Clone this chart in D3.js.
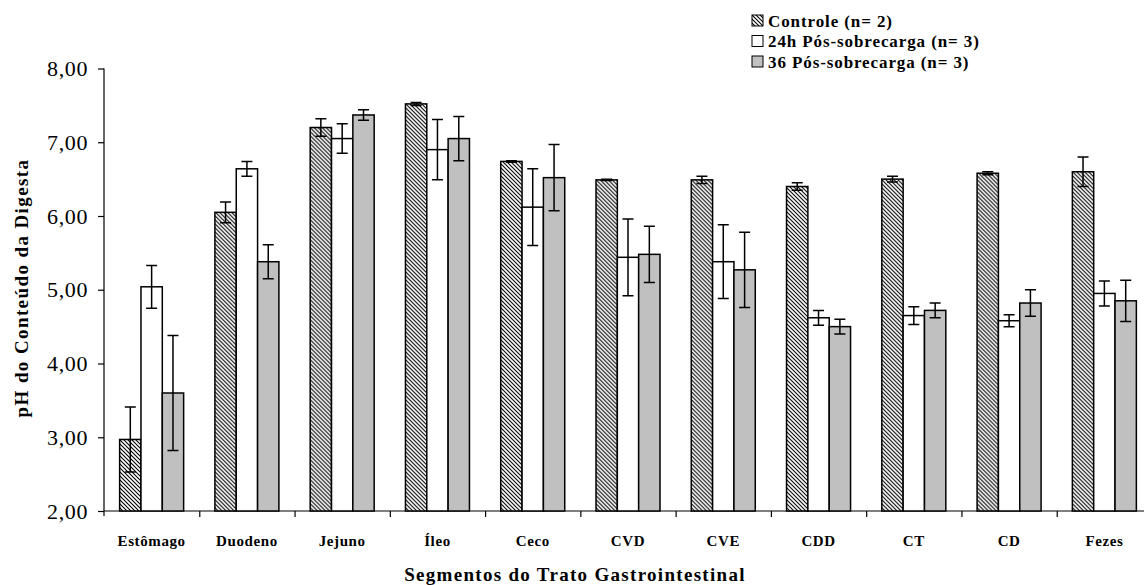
<!DOCTYPE html>
<html>
<head>
<meta charset="utf-8">
<script src="https://cdn.jsdelivr.net/npm/d3@7"></script>
<style>
body{margin:0;background:#fff;}
text{font-family:"Liberation Serif","Times New Roman",serif;fill:#000;}
</style>
</head>
<body>
<script>
var WIDTH = 1144, HEIGHT = 585;

var categories = ["Estômago","Duodeno","Jejuno","Íleo","Ceco","CVD","CVE","CDD","CT","CD","Fezes"];
var seriesNames = ["Controle (n= 2)","24h Pós-sobrecarga (n= 3)","36 Pós-sobrecarga (n= 3)"];
var controle    = [2.97,6.05,7.20,7.52,6.74,6.49,6.49,6.40,6.50,6.58,6.60];
var controleErr = [0.44,0.14,0.12,0.02,0.01,0.01,0.05,0.05,0.04,0.02,0.20];
var pos24       = [5.04,6.64,7.05,6.90,6.12,5.44,5.38,4.62,4.65,4.58,4.95];
var pos24Err    = [0.29,0.10,0.20,0.41,0.52,0.52,0.50,0.10,0.12,0.08,0.17];
var pos36       = [3.60,5.38,7.37,7.05,6.52,5.48,5.27,4.50,4.72,4.82,4.85];
var pos36Err    = [0.78,0.23,0.07,0.30,0.45,0.38,0.51,0.10,0.10,0.18,0.28];
var yTicks = [2,3,4,5,6,7,8];

var values = [controle,pos24,pos36];
var errors = [controleErr,pos24Err,pos36Err];
var fills = ["url(#hatch)","#ffffff","#c0c0c0"];

var svg = d3.select("body").append("svg")
	.attr("width",WIDTH)
	.attr("height",HEIGHT);

var defs = svg.append("defs");
var pat = defs.append("pattern")
	.attr("id","hatch")
	.attr("patternUnits","userSpaceOnUse")
	.attr("width",4).attr("height",4);
pat.append("rect").attr("width",4).attr("height",4).attr("fill","#fff");
pat.append("path")
	.attr("d","M-1,-1L5,5M-1,3L1,5M3,-1L5,1")
	.attr("stroke","#000").attr("stroke-width",1.1);

var LEFT = 104, RIGHT = 1152, TOP = 68.5, BOTTOM = 511;

var x = d3.scaleBand().domain(categories).range([LEFT,RIGHT]).padding(0);
var bw = x.bandwidth();
var x1 = d3.scaleBand().domain(d3.range(3)).range([(bw-64)/2,(bw+64)/2]).padding(0);
var y = d3.scaleLinear().domain([2,8]).range([BOTTOM,TOP]);

// y axis
var yAxis = svg.append("g")
	.attr("transform","translate("+LEFT+",0)")
	.call(d3.axisLeft(y).tickValues(yTicks).tickSize(6).tickPadding(10)
		.tickFormat(function(d){return d3.format(".2f")(d).replace(".",",")}));
yAxis.select(".domain").attr("d","M0,"+TOP+"V"+(BOTTOM+5)).attr("stroke","#000").attr("stroke-width",1.2);
yAxis.selectAll("line").attr("stroke","#000").attr("stroke-width",1.2);
yAxis.selectAll("text").style("font-size","22px").style("letter-spacing","0.6px").attr("font-family","Liberation Serif");

// x axis baseline + boundary ticks
var xb = d3.scaleLinear().domain([0,categories.length]).range([LEFT,RIGHT]);
var xAxis = svg.append("g")
	.attr("transform","translate(0,"+BOTTOM+")")
	.call(d3.axisBottom(xb).tickValues(d3.range(1,categories.length)).tickSize(6).tickFormat(""));
xAxis.select(".domain").attr("d","M"+LEFT+",0H"+RIGHT).attr("stroke","#000").attr("stroke-width",1.2);
xAxis.selectAll("line").attr("stroke","#000").attr("stroke-width",1.2);

// category labels
var xLab = svg.append("g")
	.attr("transform","translate(0,"+BOTTOM+")")
	.call(d3.axisBottom(x).tickSize(0).tickPadding(24));
xLab.select(".domain").remove();
xLab.selectAll("text")
	.attr("font-family","Liberation Serif")
	.style("font-size","15px").style("font-weight","bold")
	.style("letter-spacing","0.6px");

// bars
var groups = svg.append("g").selectAll("g")
	.data(categories)
	.enter().append("g")
	.attr("transform",function(d){return "translate("+x(d)+",0)"});

groups.selectAll("rect")
	.data(function(d,i){return values.map(function(s,k){return {k:k,v:s[i],e:errors[k][i]}})})
	.enter().append("rect")
	.attr("x",function(d){return x1(d.k)})
	.attr("width",x1.bandwidth())
	.attr("y",function(d){return y(d.v)})
	.attr("height",function(d){return BOTTOM - y(d.v)})
	.attr("fill",function(d){return fills[d.k]})
	.attr("stroke","#000")
	.attr("stroke-width",1.5);

// error bars
var eb = groups.selectAll(".err")
	.data(function(d,i){return values.map(function(s,k){return {k:k,v:s[i],e:errors[k][i]}})})
	.enter().append("g").attr("class","err")
	.attr("transform",function(d){return "translate("+(x1(d.k)+x1.bandwidth()/2)+",0)"});
eb.append("path")
	.attr("d",function(d){
		var t = y(d.v+d.e), b = y(d.v-d.e);
		return "M0,"+t+"V"+b+"M-5.5,"+t+"H5.5M-5.5,"+b+"H5.5";
	})
	.attr("stroke","#000").attr("stroke-width",1.5).attr("fill","none");

// axis titles
svg.append("text")
	.attr("x",575).attr("y",581)
	.attr("text-anchor","middle")
	.style("font-size","19px").style("font-weight","bold").style("letter-spacing","1.3px")
	.text("Segmentos do Trato Gastrointestinal");

svg.append("text")
	.attr("transform","translate(28,288) rotate(-90)")
	.attr("text-anchor","middle")
	.style("font-size","19px").style("font-weight","bold").style("letter-spacing","1.4px")
	.text("pH do Conteúdo da Digesta");

// legend
var legend = svg.append("g").attr("transform","translate(752,15)");
var li = legend.selectAll("g").data(seriesNames).enter().append("g")
	.attr("transform",function(d,i){return "translate(0,"+(i*20.5)+")"});
li.append("rect")
	.attr("width",11).attr("height",11)
	.attr("fill",function(d,i){return fills[i]})
	.attr("stroke","#000").attr("stroke-width",1);
li.append("text")
	.attr("x",16).attr("y",11.5)
	.style("font-size","17px").style("font-weight","bold").style("letter-spacing","0.9px")
	.text(function(d){return d});
</script>
</body>
</html>
